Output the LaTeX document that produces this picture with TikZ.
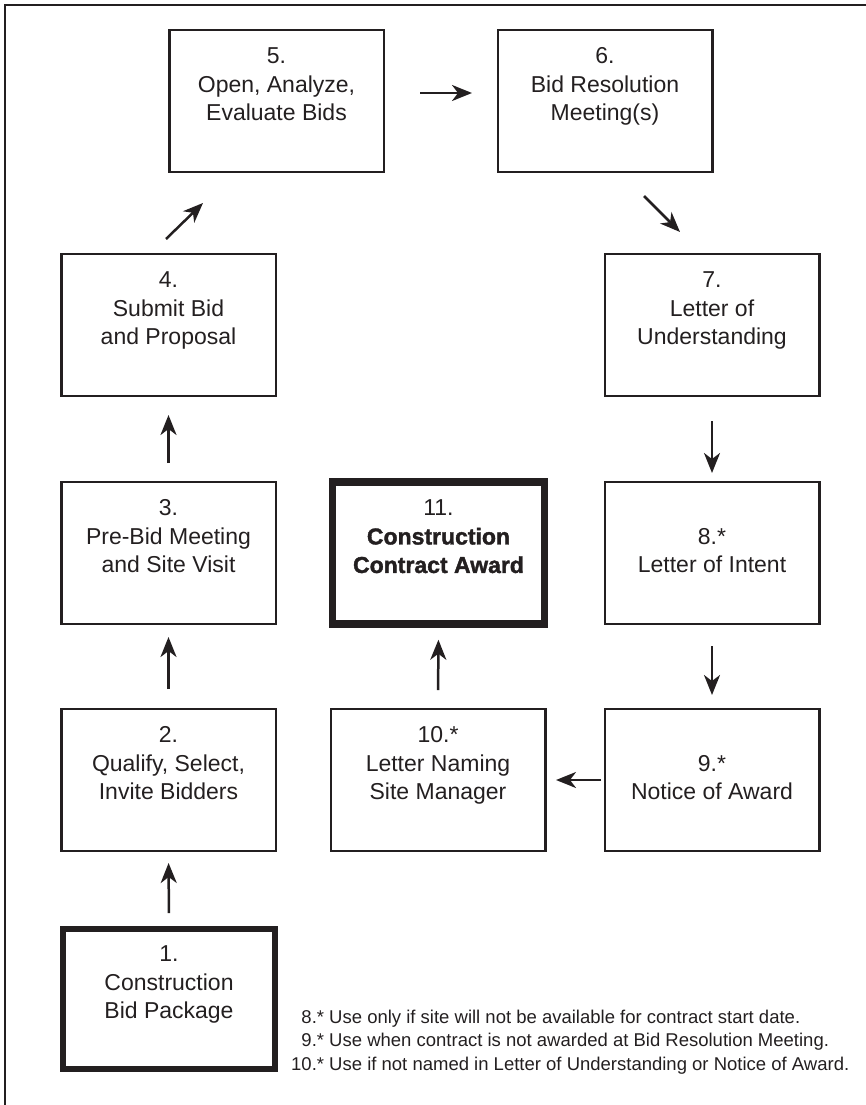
\documentclass[tikz,border=0pt]{standalone}
\usepackage{fontspec}
\setmainfont{Liberation Sans}
\newfontfamily\heavyfont{Liberation Sans}[BoldFeatures={FakeBold=1.6}]
\usetikzlibrary{arrows.meta,calc}
\definecolor{ink}{HTML}{231F20}
\begin{document}
\begin{tikzpicture}[x=1pt,y=-1pt,
  box/.style={draw=ink, line width=2.5pt, minimum width=214.5pt, minimum height=142pt,
    align=center, inner sep=0pt, text=ink, font=\fontsize{23}{28.5}\selectfont},
  thickbox/.style={box, line width=6pt, minimum width=212pt, minimum height=140pt},
  heavybox/.style={box, line width=7.5pt, minimum width=212pt, minimum height=142pt},
  arr/.style={draw=ink, line width=2.5pt, -{Stealth[length=20pt,width=16pt,inset=6pt]}},
  frame/.style={draw=ink, line width=2.5pt},
  note/.style={anchor=north west, inner sep=0pt, text=ink, font=\fontsize{18.5}{23.5}\selectfont}
]
\useasboundingbox (0,0) rectangle (865,1105);
\draw[frame] (5,1106) -- (5,5) -- (866,5);

% boxes
\node[box] (b5) at (276.5,101) {\strut 5.\\Open, Analyze,\\Evaluate Bids\\\strut};
\node[box] (b6) at (605,101) {\strut 6.\\Bid Resolution\\Meeting(s)\\\strut};
\node[box] (b4) at (168.5,325) {\strut 4.\\Submit Bid\\and Proposal\\\strut};
\node[box] (b7) at (712,325) {\strut 7.\\Letter of\\Understanding\\\strut};
\node[box] (b3) at (168.5,553) {\strut 3.\\Pre-Bid Meeting\\and Site Visit\\\strut};
\node[heavybox] (b11) at (438.5,553) {\strut 11.\\{\heavyfont\bfseries Construction}\\{\heavyfont\bfseries Contract Award}\\\strut};
\node[box] (b8) at (712,553) {\strut 8.*\\Letter of Intent\strut};
\node[box] (b2) at (168.5,780) {\strut 2.\\Qualify, Select,\\Invite Bidders\\\strut};
\node[box] (b10) at (438,780) {\strut 10.*\\Letter Naming\\Site Manager\\\strut};
\node[box] (b9) at (712,780) {\strut 9.*\\Notice of Award\strut};
\node[thickbox] (b1) at (169,999) {\strut 1.\\Construction\\Bid Package\\\strut};

% connectors
\draw[arr, shorten <=13pt, shorten >=10.75pt] (b1.north) -- (b2.south);
\draw[arr, shorten <=18.75pt, shorten >=11.75pt] (b2.north) -- (b3.south);
\draw[arr, shorten <=17.75pt, shorten >=17.75pt] (b3.north) -- (b4.south);
\coordinate (d4a) at (166,239);
\coordinate (d4b) at (203,203);
\draw[arr] (d4a) -- (d4b);
\draw[arr, shorten <=35pt, shorten >=24.5pt] ($(b5.east)+(0,-8)$) -- ($(b6.west)+(0,-8)$);
\coordinate (d6a) at (644,196);
\coordinate (d6b) at (680,232);
\draw[arr] (d6a) -- (d6b);
\draw[arr, shorten <=23.75pt, shorten >=7.75pt] (b7.south) -- (b8.north);
\draw[arr, shorten <=20.75pt, shorten >=12.75pt] (b8.south) -- (b9.north);
\draw[arr, shorten <=2.5pt, shorten >=9.5pt] (b9.west) -- (b10.east);
\draw[arr, shorten <=17.75pt, shorten >=12pt] (b10.north) -- (b11.south);

% footnotes
\node[note] (fn) at (291,1006.5) {\begin{tabular}{@{}r@{\ }l@{}}
8.* & Use only if site will not be available for contract start date.\\
9.* & Use when contract is not awarded at Bid Resolution Meeting.\\
10.* & Use if not named in Letter of Understanding or Notice of Award.
\end{tabular}};
\end{tikzpicture}
\end{document}
